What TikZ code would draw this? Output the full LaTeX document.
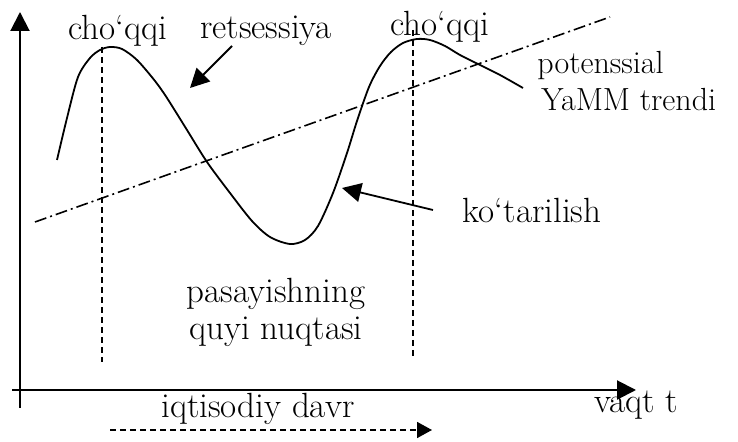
\documentclass[tikz,border=0pt]{standalone}
\usetikzlibrary{arrows.meta}

\begin{document}
\begin{tikzpicture}[x=0.5pt, y=-0.5pt, >={Triangle[length=9.5pt,width=9.5pt]},
  lbl/.style={font=\fontsize{17.5}{18.5}\selectfont, inner sep=0pt},
  axis/.style={line width=1pt},
  guide/.style={line width=0.8pt, dash pattern=on 3pt off 2pt},
  trend/.style={line width=0.8pt, dash pattern=on 6pt off 2pt on 1pt off 2pt}]
\useasboundingbox (0,0) rectangle (738,442);
% axes
\coordinate (ybot) at (20,408);
\coordinate (ytop) at (20,12);
\coordinate (xbeg) at (12,390);
\coordinate (xend) at (636,390);
\draw[axis,->] (ybot) -- (ytop);
\draw[axis,->] (xbeg) -- (xend);
% cycle
\draw[line width=0.9pt] plot[smooth, tension=0.5] coordinates {
  (57,160) (67,118) (78,77) (90,58) (100,50) (110,47) (122,49)
  (137,60) (155,81) (167,98) (187,130) (207,162) (230,193) (252,221)
  (270,237) (290,244) (305,240) (318,226) (333,193) (347,153)
  (357,121) (369,87) (380,66) (391,52) (403,43) (417,39) (430,40)
  (445,46) (460,55) (480,65) (500,75) (523,88)};
% trend
\coordinate (tr1) at (35,222);
\coordinate (tr2) at (610,17);
\draw[trend] (tr1) -- (tr2);
% peaks
\coordinate (p1top) at (102,47);
\coordinate (p1bot) at (102,362);
\coordinate (p2top) at (413,30);
\coordinate (p2bot) at (413,358);
\draw[guide] (p1top) -- (p1bot);
\draw[guide] (p2top) -- (p2bot);
% labels
\node[lbl] (peakA) at (118,31) {cho‘qqi};
\node[lbl] (peakB) at (440,27) {cho‘qqi};
\node[lbl] (recess) at (266,31) {retsessiya};
\node[lbl, font=\fontsize{16}{18.5}\selectfont, align=left, anchor=north west] (pot) at (537,51) {potenssial\\\hspace*{2pt}YaMM trendi};
\node[lbl] (rise) at (532,211) {ko‘tarilish};
\node[lbl, align=center] (trough) at (276,312) {pasayishning\\quyi nuqtasi};
\node[lbl] (time) at (636,405) {vaqt t};
\node[lbl] (cycle) at (258,409) {iqtisodiy davr};
% pointers
\coordinate (recTip) at (190,88);
\coordinate (riseTip) at (342,188);
\draw[line width=0.9pt,->] (232,46) -- (recTip);
\draw[line width=0.9pt,->] (433,210) -- (riseTip);
\coordinate (dvA) at (110,430);
\coordinate (dvB) at (432,430);
\draw[guide,->,>={Triangle[length=7.5pt,width=8pt]}] (dvA) -- (dvB);
\end{tikzpicture}
\end{document}
